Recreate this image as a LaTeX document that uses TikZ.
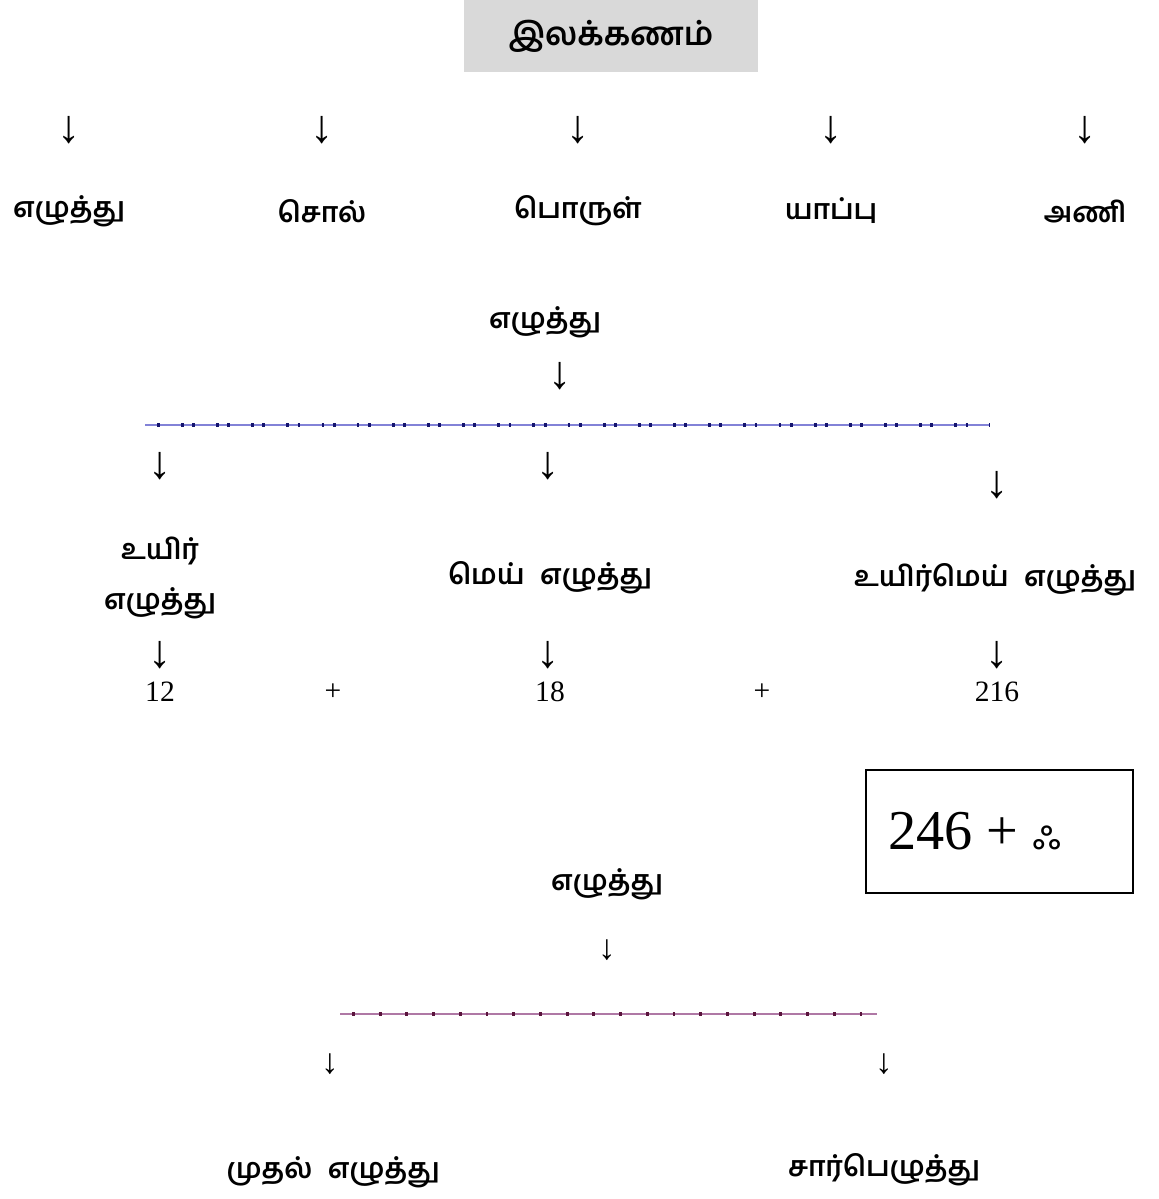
\documentclass[tikz,border=0pt]{standalone}
\usepackage{fontspec}
\setmainfont{Liberation Serif}
\newfontfamily\tamil[Script=Tamil]{Hind Madurai}
\usetikzlibrary{positioning}
\definecolor{boxgray}{RGB}{217,217,217}
\definecolor{lineblue}{RGB}{130,130,215}
\definecolor{dotblue}{RGB}{20,20,110}
\definecolor{linepurple}{RGB}{175,120,165}
\definecolor{dotpurple}{RGB}{90,20,60}
\newcommand{\gap}{\hspace{0.55em}}
\tikzset{
  tam/.style={font=\tamil\bfseries\fontsize{20}{24}\selectfont, inner sep=0pt},
  num/.style={font=\fontsize{21}{24}\selectfont, inner sep=0pt},
  down/.style={font=\fontsize{33}{36}\selectfont, inner sep=0pt},
  smalldown/.style={font=\fontsize{25}{28}\selectfont, inner sep=0pt},
  dotpattern/.style={line width=2.4pt, dash pattern=on 2pt off 15pt on 2pt off 6pt},
}
\begin{document}
\begin{tikzpicture}[x=0.025cm, y=-0.025cm]
        \useasboundingbox (0,0) rectangle (1159,1199);
        % top title
        \node[fill=boxgray, minimum width=294*0.025cm, minimum height=72*0.025cm,
              font=\tamil\bfseries\fontsize{23}{26}\selectfont] (ilak) at (611,36) {இலக்கணம்};

        % five parts
        \foreach \x/\name/\txt in {69/ezh/எழுத்து, 322/sol/சொல், 578/porul/பொருள், 831/yappu/யாப்பு, 1085/ani/அணி}{
          \node[down] (a-\name) at (\x,130) {↓};
          \node[tam] (\name) at (\x,211) {\txt};
        }

        % ezhuthu split
        \node[tam] (ezh2) at (545,322) {எழுத்து};
        \node[down] (a-ezh2) at (560,376) {↓};
        \draw[lineblue, line width=1.2pt] (145,425) coordinate (l1) -- (990,425) coordinate (r1);
        \draw[dotblue, dotpattern] (l1) ++(12,0) -- (r1);

        \node[down] (a-uyir) at (160,466) {↓};
        \node[down] (a-mei) at (548,466) {↓};
        \node[down] (a-uyirmei) at (997,485) {↓};

        \node[tam, align=center] (uyir) at (160,578) {உயிர்\\[12pt]எழுத்து};
        \node[tam] (mei) at (550,578) {மெய்\gap எழுத்து};
        \node[tam] (uyirmei) at (995,580) {உயிர்மெய்\gap எழுத்து};

        \node[down] (b-uyir) at (160,655) {↓};
        \node[down] (b-mei) at (548,655) {↓};
        \node[down] (b-uyirmei) at (997,655) {↓};

        \node[num] (n12) at (160,692) {12};
        \node[num] (p1) at (333,692) {+};
        \node[num] (n18) at (550,692) {18};
        \node[num] (p2) at (762,692) {+};
        \node[num] (n216) at (997,692) {216};

        % total
        \node[draw, line width=1.4pt, minimum width=267*0.025cm, minimum height=123*0.025cm] (total) at (999.5,831.5) {};
        \node[anchor=west, inner sep=0pt, font=\fontsize{40}{44}\selectfont] (sum) at (888,831) {246 + {\tamil\fontsize{30}{34}\selectfont ஃ}};

        % muthal / sarbu
        \node[tam] (ezh3) at (607,884) {எழுத்து};
        \node[smalldown] (a-ezh3) at (607,950) {↓};
        \draw[linepurple, line width=1.2pt] (340,1014) coordinate (l2) -- (877,1014) coordinate (r2);
        \draw[dotpurple, dotpattern, dash pattern=on 2pt off 17pt] (l2) ++(12,0) -- (r2);

        \node[smalldown] (a-muthal) at (330,1064) {↓};
        \node[smalldown] (a-sarbu) at (884,1064) {↓};

        \node[tam] (muthal) at (333,1172) {முதல்\gap எழுத்து};
        \node[tam] (sarbu) at (884,1170) {சார்பெழுத்து};
\end{tikzpicture}
\end{document}
